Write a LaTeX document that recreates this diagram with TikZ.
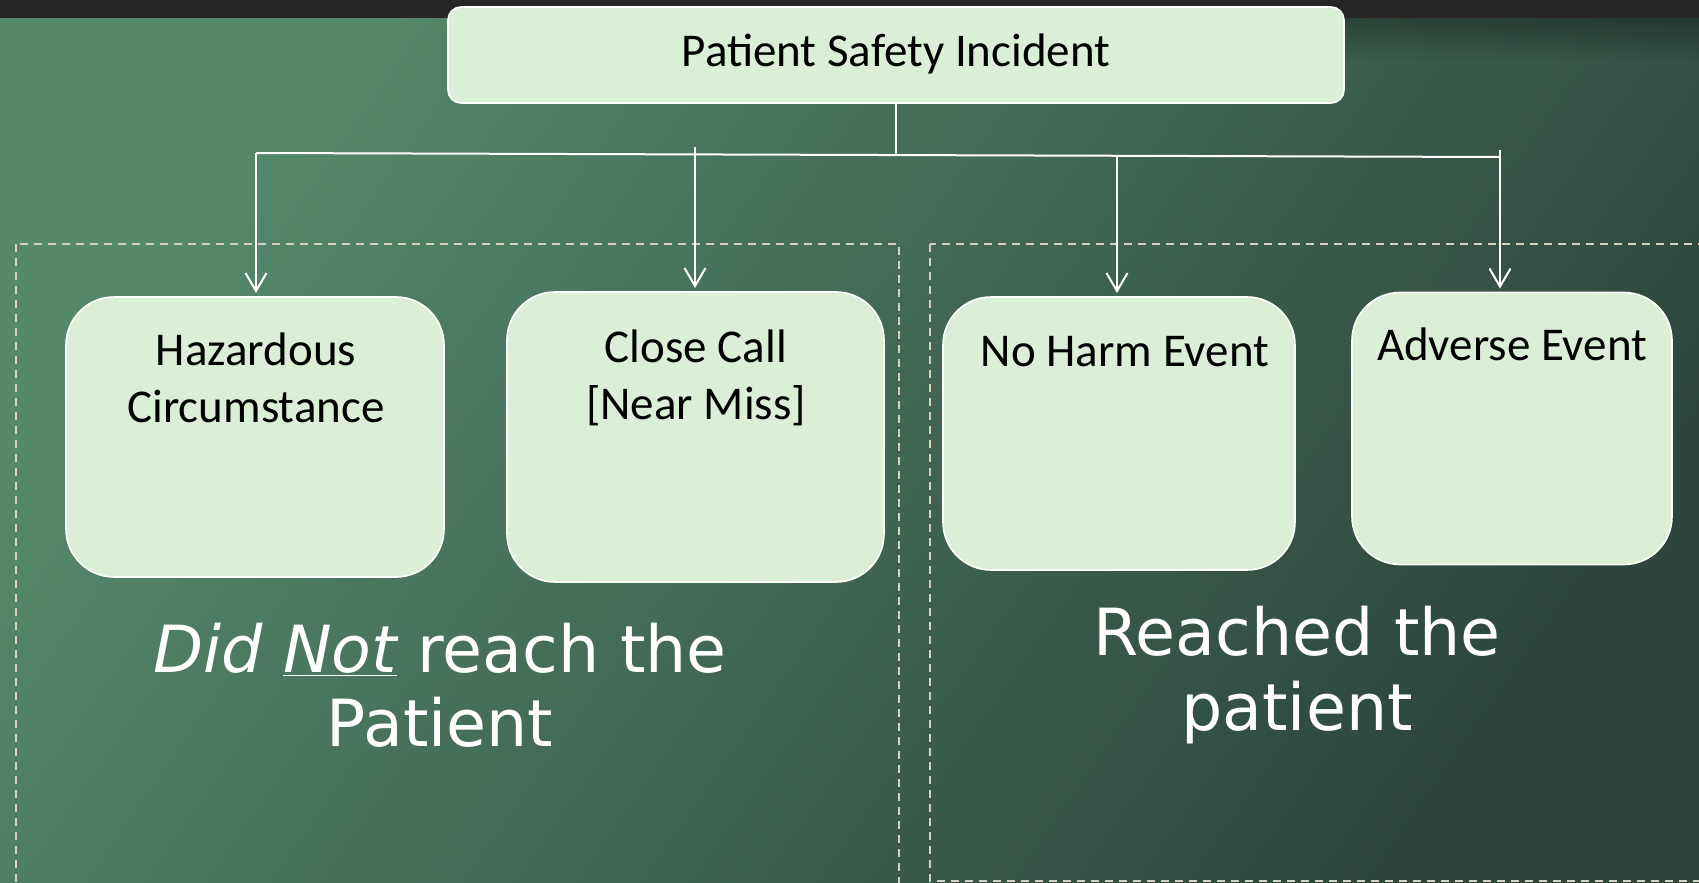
\documentclass[tikz,border=0pt]{standalone}
\usepackage{fontspec}
\setmainfont{Carlito}
\newfontfamily\verd{DejaVu Sans}
\usetikzlibrary{arrows.meta,fadings}
\definecolor{bgA}{HTML}{56896C}
\definecolor{bgM}{HTML}{4D7B64}
\definecolor{bgB}{HTML}{2C463D}
\definecolor{boxfill}{HTML}{DAEFD5}
\definecolor{dashcol}{HTML}{D6D0C0}
\definecolor{barcol}{HTML}{262626}
\begin{document}
\begin{tikzpicture}[x=0.5pt,y=-0.5pt,
  box/.style={draw=white, line width=0.8pt, fill=boxfill, rounded corners=24pt, inner sep=0pt, outer sep=0pt},
  boxtext/.style={font=\fontsize{23.5}{28}\selectfont, text=black, anchor=base, inner sep=0pt},
  bigtext/.style={font=\verd\fontsize{32.5}{38}\selectfont, text=white, anchor=base, inner sep=0pt},
  link/.style={draw=white, line width=1pt},
  arr/.style={link, shorten >=2pt, -{Straight Barb[length=9pt,width=10.5pt,line width=1pt]}},
  group/.style={draw=dashcol, line width=0.8pt, dash pattern=on 4pt off 3pt}]
\useasboundingbox (0,0) rectangle (1699,883);
\clip (0,0) rectangle (1699,883);
% background
\shade[top color=bgA, middle color=bgM, bottom color=bgB, shading angle=55] (0,0) rectangle (1699,883);
\fill[black, opacity=0.3, path fading=south] (1300,18) rectangle (1699,60);
\fill[barcol] (0,0) rectangle (1699,18);
% groups
\draw[group] (16,244) rectangle (899,900);
\draw[group] (930,244) rectangle (1710,881);
% boxes
\node[box, rounded corners=6.5pt, minimum width=448pt, minimum height=48pt] (top) at (896,55) {};
\node[boxtext] (topT) at (896,67) {Patient Safety Incident};
\node[box, minimum width=189pt, minimum height=140pt] (haz) at (255,437) {};
\node[boxtext] (hazT1) at (256,365) {Hazardous};
\node[boxtext] (hazT2) at (256,422) {Circumstance};
\node[box, minimum width=188.5pt, minimum height=145pt] (close) at (695.5,437) {};
\node[boxtext] (closeT1) at (696,362) {Close Call};
\node[boxtext] (closeT2) at (696,419) {[Near Miss]};
\node[box, minimum width=176pt, minimum height=136.5pt] (noharm) at (1119,433.5) {};
\node[boxtext] (noharmT) at (1125,366) {No Harm Event};
\node[box, minimum width=160pt, minimum height=136pt] (adv) at (1512,428.5) {};
\node[boxtext] (advT) at (1512,360) {Adverse Event};
% connectors
\coordinate (j) at (896,155);
\coordinate (busL) at (256,153);
\coordinate (busR) at (1500,157);
\coordinate (b1) at (256,153);
\coordinate (b2) at (695,147);
\coordinate (b3) at (1117,155);
\coordinate (b4) at (1500,150);
\draw[link] (top.south) -- (j);
\draw[link] (busL) -- (busR);
\draw[arr] (b1) -- (b1 |- haz.north);
\draw[arr] (b2) -- (b2 |- close.north);
\draw[arr] (b3) -- (b3 |- noharm.north);
\draw[arr] (b4) -- (b4 |- adv.north);
% group labels
\node[bigtext] (notT1) at (440,672) {\textit{Did \underline{Not}} reach the};
\node[bigtext] (notT2) at (440,746) {Patient};
\node[bigtext] (reachT1) at (1297,655) {Reached the};
\node[bigtext] (reachT2) at (1297,730) {patient};
\end{tikzpicture}
\end{document}
